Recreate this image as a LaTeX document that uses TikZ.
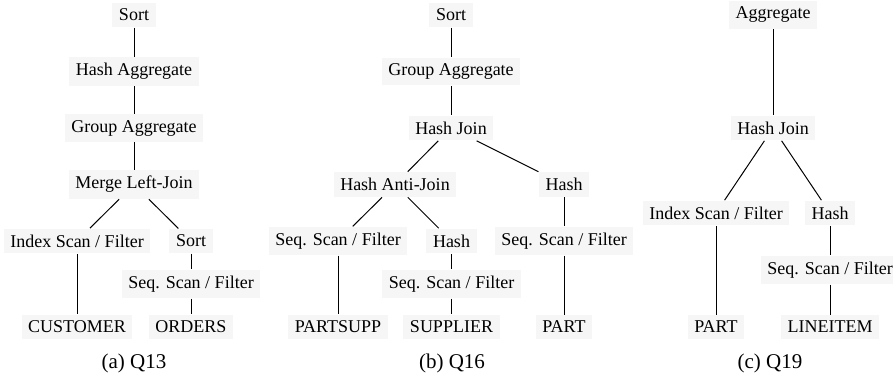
\documentclass[tikz,border=0pt]{standalone}
\usepackage{fontspec}
\setmainfont{Liberation Serif}
\usepackage{xcolor}
\usetikzlibrary{positioning}
\definecolor{opfill}{HTML}{F6F6F6}

\begin{document}
\begin{tikzpicture}[-,node distance=28.25pt,line width=0.5pt]
        \tikzstyle{every node}=[font=\fontsize{9}{10}\selectfont]
        \tikzstyle{op}=[fill=opfill,inner xsep=3.3pt,inner ysep=3pt]
        \tikzstyle{caption}=[font=\fontsize{10.5}{12}\selectfont]
        \useasboundingbox (0,0) rectangle (446.5pt,-189pt);

        % (a) Q13
        \node[op] (aSort)  at (67pt,-7.5pt)   {Sort};
        \node[op] (aHAgg)  [below of=aSort]   {Hash Aggregate};
        \node[op] (aGAgg)  [below of=aHAgg]   {Group Aggregate};
        \node[op] (aMerge) [below of=aGAgg]   {Merge Left-Join};
        \node[op] (aIdx)   [below of=aMerge, xshift=-28.5pt] {Index Scan / Filter};
        \node[op] (aSort2) [below of=aMerge, xshift=28.5pt]  {Sort};
        \node[op] (aSeq)   [node distance=21.5pt, below of=aSort2] {Seq. Scan / Filter};
        \node[op] (aCust)  [node distance=43pt, below of=aIdx]     {CUSTOMER};
        \node[op] (aOrd)   [node distance=21.5pt, below of=aSeq]   {ORDERS};
        \node[caption] (aCap) at (67pt,-181.5pt) {(a) Q13};

        \path (aSort) edge (aHAgg)
              (aHAgg) edge (aGAgg)
              (aGAgg) edge (aMerge)
              (aMerge) edge (aIdx)
                       edge (aSort2)
              (aSort2) edge (aSeq)
              (aIdx) edge (aCust)
              (aSeq) edge (aOrd);

        % (b) Q16
        \node[op] (bSort)  at (225.5pt,-7.5pt) {Sort};
        \node[op] (bGAgg)  [below of=bSort]    {Group Aggregate};
        \node[op] (bHJoin) [below of=bGAgg]    {Hash Join};
        \node[op] (bAnti)  [below of=bHJoin, xshift=-28pt]  {Hash Anti-Join};
        \node[op] (bHash)  [below of=bHJoin, xshift=56.5pt] {Hash};
        \node[op] (bSeq1)  [below of=bAnti, xshift=-28.5pt] {Seq. Scan / Filter};
        \node[op] (bHash2) [below of=bAnti, xshift=28.25pt] {Hash};
        \node[op] (bSeq2)  [node distance=21.5pt, below of=bHash2] {Seq. Scan / Filter};
        \node[op] (bSeq3)  [below of=bHash] {Seq. Scan / Filter};
        \node[op] (bPartsupp) [node distance=43pt, below of=bSeq1]   {PARTSUPP};
        \node[op] (bSupp)  [node distance=21.5pt, below of=bSeq2]    {SUPPLIER};
        \node[op] (bPart)  [node distance=43pt, below of=bSeq3]      {PART};
        \node[caption] (bCap) at (226pt,-181.5pt) {(b) Q16};

        \path (bSort) edge (bGAgg)
              (bGAgg) edge (bHJoin)
              (bHJoin) edge (bAnti)
                       edge (bHash)
              (bAnti) edge (bSeq1)
                      edge (bHash2)
              (bHash2) edge (bSeq2)
              (bHash) edge (bSeq3)
              (bSeq1) edge (bPartsupp)
              (bSeq2) edge (bSupp)
              (bSeq3) edge (bPart);

        % (c) Q19
        \node[op] (cAgg)   at (386.5pt,-7.5pt) {Aggregate};
        \node[op] (cHJoin) [node distance=56.5pt, below of=cAgg] {Hash Join};
        \node[op] (cIdx)   [node distance=42.5pt, below of=cHJoin, xshift=-28.5pt] {Index Scan / Filter};
        \node[op] (cHash)  [node distance=42.5pt, below of=cHJoin, xshift=28.5pt]  {Hash};
        \node[op] (cSeq)   [node distance=28.5pt, below of=cHash] {Seq. Scan / Filter};
        \node[op] (cPart)  [node distance=57pt, below of=cIdx]    {PART};
        \node[op] (cLine)  [node distance=28.5pt, below of=cSeq]  {LINEITEM};
        \node[caption] (cCap) at (385pt,-181.5pt) {(c) Q19};

        \path (cAgg) edge (cHJoin)
              (cHJoin) edge (cIdx)
                       edge (cHash)
              (cHash) edge (cSeq)
              (cIdx) edge (cPart)
              (cSeq) edge (cLine);
\end{tikzpicture}
\end{document}
